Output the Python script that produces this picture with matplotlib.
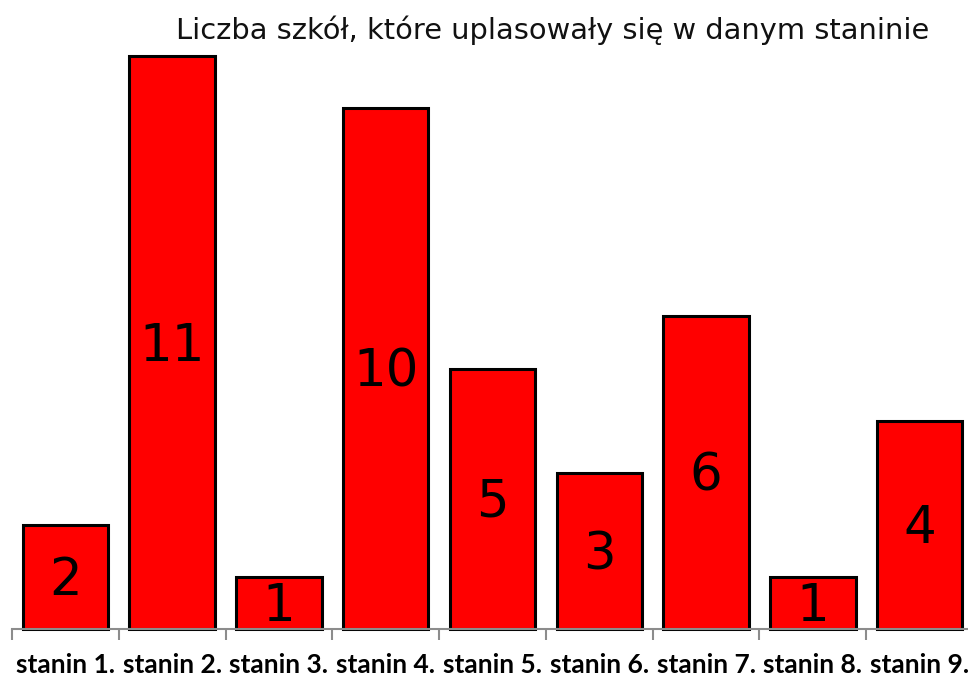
import matplotlib
matplotlib.use('Agg')
import matplotlib.pyplot as plt
import numpy as np

# dane
categories = ['stanin 1.', 'stanin 2.', 'stanin 3.', 'stanin 4.', 'stanin 5.',
              'stanin 6.', 'stanin 7.', 'stanin 8.', 'stanin 9.']
counts = [2, 11, 1, 10, 5, 3, 6, 1, 4]
title = 'Liczba szkół, które uplasowały się w danym staninie'

W, H = 968, 675
fig = plt.figure(figsize=(W / 100, H / 100), dpi=100)
# os wychodzi troche poza prawa krawedz, jak w oryginale
ax = fig.add_axes([12 / W, 46 / H, 961 / W, 629 / H])

x = np.arange(len(categories))
bars = ax.bar(x, counts, width=0.8, color='#ff0000', edgecolor='black',
              linewidth=2.2, clip_on=False)

for b, v in zip(bars, counts):
    ax.annotate(str(v), (b.get_x() + b.get_width() / 2, v / 2),
                xytext=(0, -3), textcoords='offset points',
                ha='center', va='center', fontsize=37, color='black',
                family='DejaVu Sans')

ax.set_xlim(-0.5, len(categories) - 0.5)
ax.set_ylim(0, 629 / 52.1)

for s in ['top', 'right', 'left']:
    ax.spines[s].set_visible(False)
ax.spines['bottom'].set_color('#8c8c8c')
ax.spines['bottom'].set_linewidth(1.5)
ax.set_yticks([])

ax.set_xticks(x)
ax.set_xticklabels(categories, fontsize=19, fontweight='bold', family='Lato')
ax.tick_params(axis='x', which='major', length=0, pad=17)
ax.set_xticks(np.arange(len(categories) + 1) - 0.5, minor=True)
ax.tick_params(axis='x', which='minor', length=8, width=1.5, color='#8c8c8c')

fig.text(553 / W, 1 - 30 / H, title, ha='center', va='center',
         fontsize=20.8, family='DejaVu Sans', color='#111111')

fig.savefig('out.png', dpi=100)
